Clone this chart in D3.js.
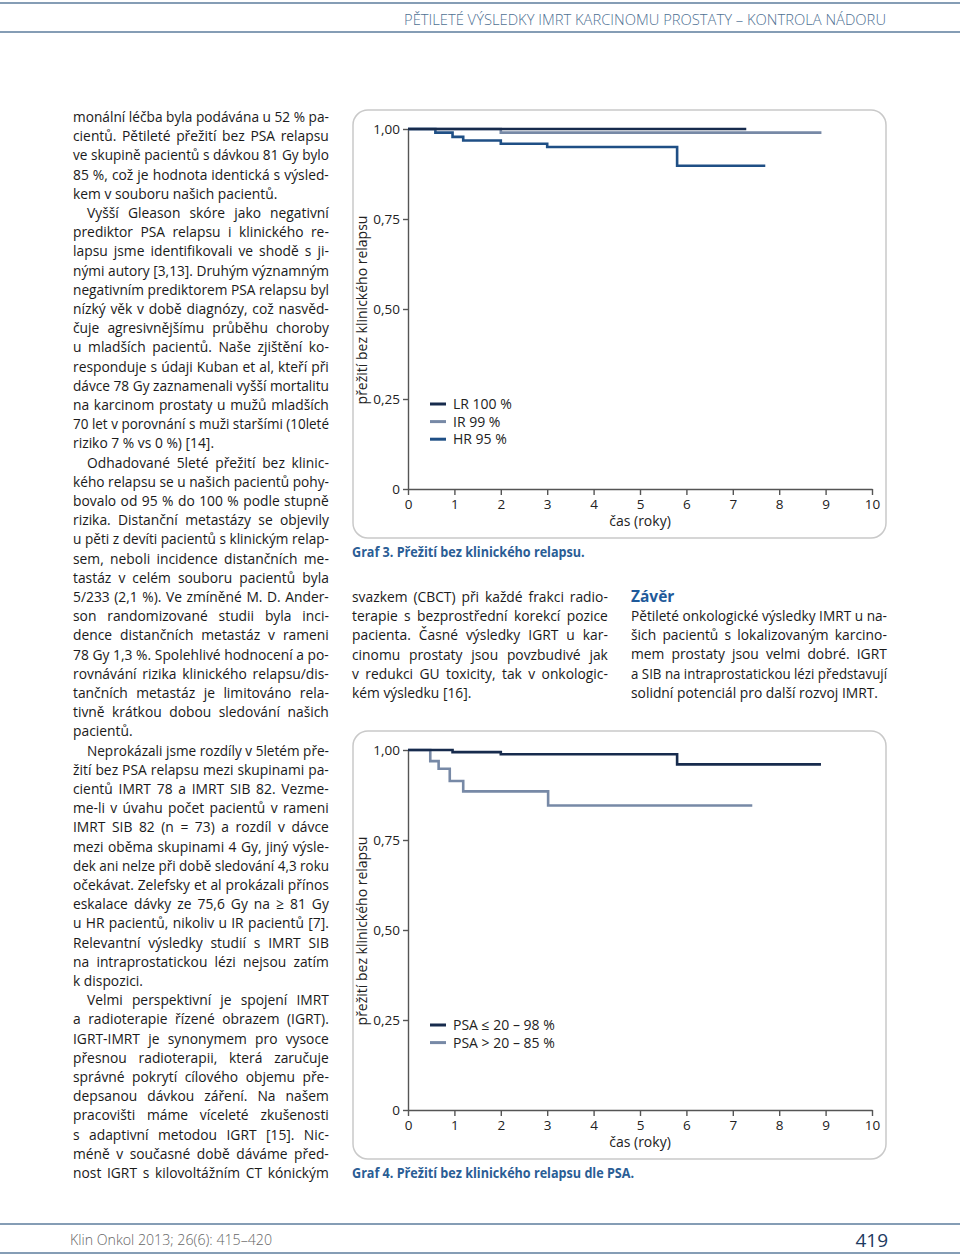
<!DOCTYPE html>
<html><head><meta charset="utf-8">
<script src="https://cdn.jsdelivr.net/npm/d3@7"></script>
<style>body{margin:0;background:#fff}svg{display:block}</style>
</head><body>
<svg id="page" width="960" height="1257"></svg>
<script>
// ---------- DATA ----------
const yearTicks = [0,1,2,3,4,5,6,7,8,9,10];
const survTicks = [0, 0.25, 0.5, 0.75, 1];
const survTickLabels = ["0", "0,25", "0,50", "0,75", "1,00"];

// Graf 3 – risk groups (step times, survival after step, end of follow-up)
const lrTimes = [0];               const lrSurv = [1.0];                                   const lrEnd = 7.29;
const irTimes = [0, 2.0];          const irSurv = [1.0, 0.99];                             const irEnd = 8.91;
const hrTimes = [0, 0.59, 0.96, 1.19, 2.0, 3.0, 5.8];
const hrSurv  = [1.0, 0.99, 0.978, 0.968, 0.959, 0.95, 0.898];                             const hrEnd = 7.7;
const graf3Labels = ["LR 100 %", "IR 99 %", "HR 95 %"];

// Graf 4 – PSA groups
const psaLowTimes = [0, 0.96, 2.0, 5.8];            const psaLowSurv = [1.0, 0.994, 0.988, 0.96];           const psaLowEnd = 8.9;
const psaHighTimes = [0, 0.48, 0.66, 0.9, 1.19, 3.02]; const psaHighSurv = [1.0, 0.969, 0.948, 0.914, 0.885, 0.846]; const psaHighEnd = 7.42;
const graf4Labels = ["PSA ≤ 20 – 98 %", "PSA > 20 – 85 %"];

const headerText = "PĚTILETÉ VÝSLEDKY IMRT KARCINOMU PROSTATY – KONTROLA NÁDORU";
const footerText = "Klin Onkol 2013; 26(6): 415–420";
const pageNumber = "419";
const yTitle = "přežití bez klinického relapsu";
const xTitle = "čas (roky)";
const caption3 = "Graf 3. Přežití bez klinického relapsu.";
const caption4 = "Graf 4. Přežití bez klinického relapsu dle PSA.";

// text lines: j = justified, i = indented
const leftLines = [
 ["monální léčba byla podávána u 52 % pa-",1,0],
 ["cientů. Pětileté přežití bez PSA relapsu",1,0],
 ["ve skupině pacientů s dávkou 81 Gy bylo",1,0],
 ["85 %, což je hodnota identická s výsled-",1,0],
 ["kem v souboru našich pacientů.",0,0],
 ["Vyšší Gleason skóre jako negativní",1,1],
 ["prediktor PSA relapsu i klinického re-",1,0],
 ["lapsu jsme identifikovali ve shodě s ji-",1,0],
 ["nými autory [3,13]. Druhým významným",1,0],
 ["negativním prediktorem PSA relapsu byl",1,0],
 ["nízký věk v době diagnózy, což nasvěd-",1,0],
 ["čuje agresivnějšímu průběhu choroby",1,0],
 ["u mladších pacientů. Naše zjištění ko-",1,0],
 ["responduje s údaji Kuban et al, kteří při",1,0],
 ["dávce 78 Gy zaznamenali vyšší mortalitu",1,0],
 ["na karcinom prostaty u mužů mladších",1,0],
 ["70 let v porovnání s muži staršími (10leté",1,0],
 ["riziko 7 % vs 0 %) [14].",0,0],
 ["Odhadované 5leté přežití bez klinic-",1,1],
 ["kého relapsu se u našich pacientů pohy-",1,0],
 ["bovalo od 95 % do 100 % podle stupně",1,0],
 ["rizika. Distanční metastázy se objevily",1,0],
 ["u pěti z devíti pacientů s klinickým relap-",1,0],
 ["sem, neboli incidence distančních me-",1,0],
 ["tastáz v celém souboru pacientů byla",1,0],
 ["5/233 (2,1 %). Ve zmíněné M. D. Ander-",1,0],
 ["son randomizované studii byla inci-",1,0],
 ["dence distančních metastáz v rameni",1,0],
 ["78 Gy 1,3 %. Spolehlivé hodnocení a po-",1,0],
 ["rovnávání rizika klinického relapsu/dis-",1,0],
 ["tančních metastáz je limitováno rela-",1,0],
 ["tivně krátkou dobou sledování našich",1,0],
 ["pacientů.",0,0],
 ["Neprokázali jsme rozdíly v 5letém pře-",1,1],
 ["žití bez PSA relapsu mezi skupinami pa-",1,0],
 ["cientů IMRT 78 a IMRT SIB 82. Vezme-",1,0],
 ["me-li v úvahu počet pacientů v rameni",1,0],
 ["IMRT SIB 82 (n = 73) a rozdíl v dávce",1,0],
 ["mezi oběma skupinami 4 Gy, jiný výsle-",1,0],
 ["dek ani nelze při době sledování 4,3 roku",1,0],
 ["očekávat. Zelefsky et al prokázali přínos",1,0],
 ["eskalace dávky ze 75,6 Gy na ≥ 81 Gy",1,0],
 ["u HR pacientů, nikoliv u IR pacientů [7].",1,0],
 ["Relevantní výsledky studií s IMRT SIB",1,0],
 ["na intraprostatickou lézi nejsou zatím",1,0],
 ["k dispozici.",0,0],
 ["Velmi perspektivní je spojení IMRT",1,1],
 ["a radioterapie řízené obrazem (IGRT).",1,0],
 ["IGRT-IMRT je synonymem pro vysoce",1,0],
 ["přesnou radioterapii, která zaručuje",1,0],
 ["správné pokrytí cílového objemu pře-",1,0],
 ["depsanou dávkou záření. Na našem",1,0],
 ["pracovišti máme víceleté zkušenosti",1,0],
 ["s adaptivní metodou IGRT [15]. Nic-",1,0],
 ["méně v současné době dáváme před-",1,0],
 ["nost IGRT s kilovoltážním CT kónickým",1,0]
];
const midLines = [
 ["svazkem (CBCT) při každé frakci radio-",1,0],
 ["terapie s bezprostřední korekcí pozice",1,0],
 ["pacienta. Časné výsledky IGRT u kar-",1,0],
 ["cinomu prostaty jsou povzbudivé jak",1,0],
 ["v redukci GU toxicity, tak v onkologic-",1,0],
 ["kém výsledku [16].",0,0]
];
const conclusionTitle = "Závěr";
const rightLines = [
 ["Pětileté onkologické výsledky IMRT u na-",1,0],
 ["šich pacientů s lokalizovaným karcino-",1,0],
 ["mem prostaty jsou velmi dobré. IGRT",1,0],
 ["a SIB na intraprostatickou lézi představují",1,0],
 ["solidní potenciál pro další rozvoj IMRT.",0,0]
];

// ---------- DRAWING ----------
const FONT = "'Open Sans','Noto Sans',sans-serif";
const svg = d3.select("#page");
const LH = 19.2, FS = 15, COLW = 256, INDENT = 14;

// page frame lines
const frameColor = "#5d7d9c";
[3, 32, 1224, 1253].forEach(y => svg.append("line").attr("x1",0).attr("x2",960).attr("y1",y).attr("y2",y)
  .attr("stroke",frameColor).attr("stroke-width",1.6));
svg.append("text").attr("x",404).attr("y",25).attr("font-family",FONT).attr("font-size",15).attr("font-weight",300)
  .attr("fill","#4f7193").attr("textLength",482).attr("lengthAdjust","spacingAndGlyphs").text(headerText);
svg.append("text").attr("x",70).attr("y",1245).attr("font-family",FONT).attr("font-size",14).attr("font-weight",300)
  .attr("fill","#666").attr("textLength",202).attr("lengthAdjust","spacingAndGlyphs").text(footerText);
svg.append("text").attr("x",888).attr("y",1247).attr("text-anchor","end").attr("font-family",FONT).attr("font-size",19)
  .attr("fill","#1d3a5f").text(pageNumber);

// body text columns
const cols = [];
function makeColumn(lines, x0, yCenterFirst) {
  const g = svg.append("g").attr("font-family",FONT).attr("font-size",FS).attr("fill","#1a1a1a");
  const items = lines.map((ln,i) => {
    const t = g.append("text").attr("y", yCenterFirst + 5 + i*LH).text(ln[0]);
    return {t, w: t.node().getComputedTextLength(), j: ln[1], ind: ln[2], s: ln[0]};
  });
  cols.push({g, items, x0});
}
makeColumn(leftLines, 73, 117);
makeColumn(midLines, 352, 597);
makeColumn(rightLines, 631, 616);

const jw = [];
cols.forEach(c => c.items.forEach(it => { if (it.j) jw.push(it.w + (it.ind?INDENT:0)); }));
const f = Math.min(1, COLW*0.955 / d3.median(jw));
cols.forEach(c => {
  c.g.attr("transform", `translate(${c.x0},0) scale(${f},1)`);
  const W = COLW / f;
  c.items.forEach(it => {
    const ind = it.ind ? INDENT/f : 0;
    it.t.attr("x", ind);
    if (it.j) {
      const sp = (it.s.match(/ /g)||[]).length;
      const extra = W - ind - it.w;
      if (extra >= 0 && sp > 0) it.t.style("word-spacing", (extra/sp)+"px");
      else it.t.attr("textLength", W-ind).attr("lengthAdjust","spacingAndGlyphs");
    }
  });
});
svg.append("text").attr("x",631).attr("y",602).attr("font-family",FONT).attr("font-size",15.5).attr("font-weight",700)
  .attr("fill","#1f5a9a").text(conclusionTitle);

// charts
function drawChart(oy, series, labels, caption) {
  svg.append("rect").attr("x",353).attr("y",110+oy).attr("width",533).attr("height",428).attr("rx",15)
    .attr("fill","none").attr("stroke","#c9c9c9").attr("stroke-width",1.5);
  const x = d3.scaleLinear().domain([0,10]).range([408,872]);
  const y = d3.scaleLinear().domain([0,1]).range([489+oy,129+oy]);
  const g = svg.append("g");
  const ax = g.append("g").attr("transform",`translate(408,0)`)
    .call(d3.axisLeft(y).tickValues(survTicks).tickFormat((d,i)=>survTickLabels[i]).tickSize(5).tickSizeOuter(0).tickPadding(3));
  const bx = g.append("g").attr("transform",`translate(0,${489+oy})`)
    .call(d3.axisBottom(x).tickValues(yearTicks).tickSize(6).tickSizeOuter(0).tickPadding(4));
  [ax,bx].forEach(a => {
    a.selectAll("path,line").attr("stroke","#555").attr("stroke-width",1.4);
    a.selectAll("text").attr("font-family",FONT).attr("font-size",13.5).attr("fill","#222");
  });
  g.append("text").attr("x",x(5)).attr("y",526+oy).attr("text-anchor","middle").attr("font-family",FONT)
    .attr("font-size",14).attr("fill","#222").text(xTitle);
  g.append("text").attr("transform",`translate(367,${310+oy}) rotate(-90)`).attr("text-anchor","middle")
    .attr("font-family",FONT).attr("font-size",14).attr("fill","#222").text(yTitle);
  const line = d3.line().x(d=>x(d[0])).y(d=>y(d[1])).curve(d3.curveStepAfter);
  series.forEach(s => {
    const pts = s.times.map((t,i)=>[t,s.surv[i]]);
    pts.push([s.end, s.surv[s.surv.length-1]]);
    g.append("path").attr("d",line(pts)).attr("fill","none").attr("stroke",s.color).attr("stroke-width",2.6);
  });
  labels.forEach((lab,i) => {
    const ly = 404 + oy + i*17.6;
    g.append("line").attr("x1",430).attr("x2",446).attr("y1",ly).attr("y2",ly)
      .attr("stroke",lab.color).attr("stroke-width",3);
    g.append("text").attr("x",453).attr("y",ly+5).attr("font-family",FONT).attr("font-size",14)
      .attr("fill","#222").text(lab.text);
  });
  svg.append("g").attr("transform",`translate(352,${557+oy}) scale(0.87,1)`)
    .append("text").attr("x",0).attr("y",0).attr("font-family",FONT).attr("font-size",14.5)
    .attr("font-weight",700).attr("fill","#2a5d95").text(caption);
}
const cLR = "#172b4d", cIR = "#7789a6", cHR = "#1f4f85";
drawChart(0, [
  {times: hrTimes, surv: hrSurv, end: hrEnd, color: cHR},
  {times: irTimes, surv: irSurv, end: irEnd, color: cIR},
  {times: lrTimes, surv: lrSurv, end: lrEnd, color: cLR}
], [{text: graf3Labels[0], color: cLR},{text: graf3Labels[1], color: cIR},{text: graf3Labels[2], color: cHR}], caption3);
drawChart(621, [
  {times: psaHighTimes, surv: psaHighSurv, end: psaHighEnd, color: cIR},
  {times: psaLowTimes, surv: psaLowSurv, end: psaLowEnd, color: cLR}
], [{text: graf4Labels[0], color: cLR},{text: graf4Labels[1], color: cIR}], caption4);
</script>
</body></html>
